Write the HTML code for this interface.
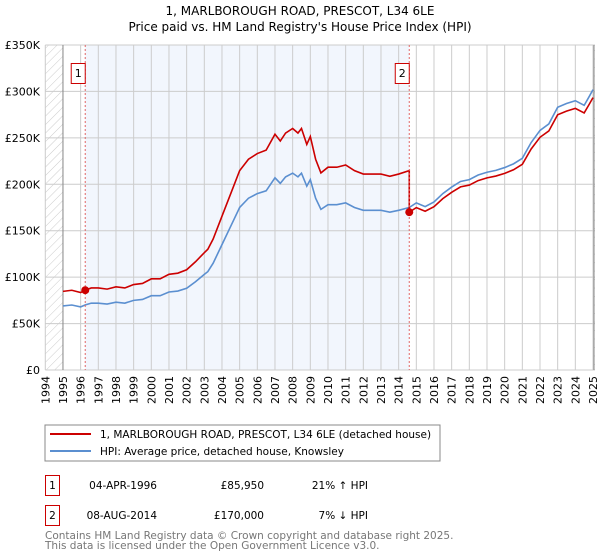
<!DOCTYPE html>
<html><head><meta charset="utf-8"><style>
body{margin:0;background:#fff;font-family:"DejaVu Sans","Liberation Sans",sans-serif;}
svg{display:block}
</style></head><body>
<svg width="600" height="560" viewBox="0 0 600 560" xmlns="http://www.w3.org/2000/svg" font-family="DejaVu Sans, Liberation Sans, sans-serif">
<defs><pattern id="hatch" patternUnits="userSpaceOnUse" width="6" height="6" patternTransform="rotate(45)"><line x1="0" y1="0" x2="0" y2="6" stroke="#ccc" stroke-width="1"/></pattern></defs>
<text x="300" y="15" text-anchor="middle" font-size="12" fill="#000">1, MARLBOROUGH ROAD, PRESCOT, L34 6LE</text>
<text x="300" y="31" text-anchor="middle" font-size="12" fill="#000">Price paid vs. HM Land Registry's House Price Index (HPI)</text>
<g id="plot"></g>
<g>
<rect x="45" y="425" width="395" height="36" fill="#fff" stroke="#888"/>
<line x1="50" y1="434" x2="91" y2="434" stroke="#cc0000" stroke-width="2"/>
<text x="100" y="438" font-size="10.5">1, MARLBOROUGH ROAD, PRESCOT, L34 6LE (detached house)</text>
<line x1="50" y1="451" x2="91" y2="451" stroke="#5b8fd0" stroke-width="2"/>
<text x="100" y="455" font-size="10.5">HPI: Average price, detached house, Knowsley</text>
</g>
<g font-size="10.5">
<rect x="45.5" y="475.5" width="14" height="20" fill="#fff" stroke="#cc0000"/>
<text x="52.5" y="489" text-anchor="middle">1</text>
<text x="157" y="489" text-anchor="end">04-APR-1996</text>
<text x="264" y="489" text-anchor="end">£85,950</text>
<text x="368" y="489" text-anchor="end">21% ↑ HPI</text>
<rect x="45.5" y="505.5" width="14" height="20" fill="#fff" stroke="#cc0000"/>
<text x="52.5" y="519" text-anchor="middle">2</text>
<text x="157" y="519" text-anchor="end">08-AUG-2014</text>
<text x="264" y="519" text-anchor="end">£170,000</text>
<text x="368" y="519" text-anchor="end">7% ↓ HPI</text>
</g>
<text x="45" y="539" font-size="10.5" fill="#777">Contains HM Land Registry data © Crown copyright and database right 2025.</text>
<text x="45" y="549" font-size="10.5" fill="#777">This data is licensed under the Open Government Licence v3.0.</text>
</svg>
<script>
const years=[1994,1995,1996,1997,1998,1999,2000,2001,2002,2003,2004,2005,2006,2007,2008,2009,2010,2011,2012,2013,2014,2015,2016,2017,2018,2019,2020,2021,2022,2023,2024,2025];
const yTicks=[0,50000,100000,150000,200000,250000,300000,350000];
const yTickLabels=["£0","£50K","£100K","£150K","£200K","£250K","£300K","£350K"];
const hpiDates=[1995,1995.5,1996,1996.25,1996.6,1997,1997.5,1998,1998.5,1999,1999.5,2000,2000.5,2001,2001.5,2002,2002.5,2003,2003.2,2003.5,2004,2004.5,2005,2005.5,2006,2006.5,2007,2007.3,2007.6,2008,2008.3,2008.5,2008.8,2009,2009.3,2009.6,2010,2010.5,2011,2011.5,2012,2012.5,2013,2013.5,2014,2014.6,2015,2015.5,2016,2016.5,2017,2017.5,2018,2018.5,2019,2019.5,2020,2020.5,2021,2021.5,2022,2022.5,2023,2023.5,2024,2024.5,2024.8,2025];
const hpiValues=[69000,70000,68000,70000,72000,72000,71000,73000,72000,75000,76000,80000,80000,84000,85000,88000,95000,103000,106000,115000,135000,155000,175000,185000,190000,193000,207000,201000,208000,212000,208000,212000,198000,205000,185000,173000,178000,178000,180000,175000,172000,172000,172000,170000,172000,175000,180000,176000,181000,190000,197000,203000,205000,210000,213000,215000,218000,222000,228000,245000,258000,265000,283000,287000,290000,285000,295000,302000];
const saleDates=[1996.26,2014.6];
const salePrices=[85950,170000];
const saleLabels=["1","2"];
const X0=45.3,X1=593,Y0=370,Y1=45,YMAX=350000;
const xs=t=>X0+(t-1994)*(X1-X0)/31;
const ys=v=>Y0-v/YMAX*(Y0-Y1);
const ns="http://www.w3.org/2000/svg";
const g=document.getElementById('plot');
function mk(tag,attrs,parent){const e=document.createElementNS(ns,tag);for(const k in attrs)e.setAttribute(k,attrs[k]);(parent||g).appendChild(e);return e;}
function hpiAt(t){for(let i=1;i<hpiDates.length;i++){if(t<=hpiDates[i]){const f=(t-hpiDates[i-1])/(hpiDates[i]-hpiDates[i-1]);return hpiValues[i-1]+f*(hpiValues[i]-hpiValues[i-1]);}}return hpiValues[hpiValues.length-1];}
let e;
e=mk('rect',{x:X0,y:Y1,width:xs(1995)-X0,height:Y0-Y1,fill:'url(#hatch)'});


e=mk('rect',{x:xs(2025),y:Y1,width:X1+2-xs(2025),height:Y0-Y1,fill:'url(#hatch)'});


e=mk('rect',{x:xs(saleDates[0]),y:Y1,width:xs(saleDates[1])-xs(saleDates[0]),height:Y0-Y1,fill:'#f2f6fd'});


yTicks.forEach((v,i)=>{
 e=mk('line',{x1:X0,x2:X1+2,y1:ys(v),y2:ys(v),stroke:'#ccc','stroke-width':1});
 
 
 e=mk('text',{x:40,y:ys(v)+4,'text-anchor':'end','font-size':'11',fill:'#000'});
 e.textContent=yTickLabels[i];
 
 
});
years.forEach(yr=>{
 e=mk('line',{x1:xs(yr),x2:xs(yr),y1:Y1,y2:Y0,stroke:'#ccc','stroke-width':1});
 
 
 e=mk('text',{x:0,y:0,'text-anchor':'end','font-size':'11',fill:'#000',transform:`translate(${xs(yr)+4},${Y0+6}) rotate(-90)`});
 e.textContent=String(yr);
 
 
});
e=mk('line',{x1:xs(1995),x2:xs(1995),y1:Y1,y2:Y0,stroke:'#888'});


e=mk('line',{x1:xs(2025)+1,x2:xs(2025)+1,y1:Y1,y2:Y0,stroke:'#888'});


// HPI line
e=mk('polyline',{points:hpiDates.map((t,i)=>xs(t)+','+ys(hpiValues[i])).join(' '),fill:'none',stroke:'#5b8fd0','stroke-width':1.6});


// property line: indexed from sales
const r1=salePrices[0]/hpiAt(saleDates[0]),r2=salePrices[1]/hpiAt(saleDates[1]);
let pts=[];
hpiDates.forEach((t,i)=>{
 if(t<saleDates[1]) pts.push([t,hpiValues[i]*r1]);
});
pts.push([saleDates[1],hpiAt(saleDates[1])*r1]);
pts.push([saleDates[1],salePrices[1]]);
hpiDates.forEach((t,i)=>{ if(t>saleDates[1]) pts.push([t,hpiValues[i]*r2]); });
e=mk('polyline',{points:pts.map(p=>xs(p[0])+','+ys(p[1])).join(' '),fill:'none',stroke:'#cc0000','stroke-width':1.6});


saleDates.forEach((t,i)=>{
 e=mk('line',{x1:xs(t),x2:xs(t),y1:Y1,y2:Y0,stroke:'#e06666','stroke-width':1,'stroke-dasharray':'2,2'});
 
 
 e=mk('circle',{cx:xs(t),cy:ys(salePrices[i]),r:4,fill:'#cc0000'});
 
 
 e=mk('rect',{x:xs(t)-14,y:63.5,width:14,height:20,fill:'#fff',stroke:'#cc0000'});
 
 
 e=mk('text',{x:xs(t)-7,y:77,'text-anchor':'middle','font-size':'11',fill:'#000'});
 e.textContent=saleLabels[i];
 
 
});
</script>
</body></html>
